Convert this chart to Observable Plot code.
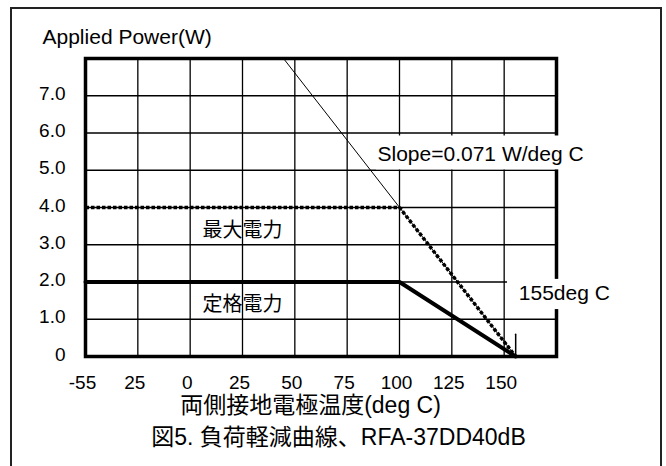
<!DOCTYPE html>
<html>
<head>
<meta charset="utf-8">
<script src="https://cdn.jsdelivr.net/npm/d3@7"></script>
<script src="https://cdn.jsdelivr.net/npm/@observablehq/plot@0.6"></script>
<style>
  html, body { margin: 0; padding: 0; background: #fff; }
  #wrap { position: relative; width: 666px; height: 466px; overflow: hidden; }
  #outer { position: absolute; left: 10px; top: 7px; width: 648px; height: 480px; border: 2px solid #222; pointer-events: none; }
  svg { display: block; }
</style>
</head>
<body>
<div id="wrap"><div id="outer"></div></div>
<script>
// ---- data ----
const xTicks = [-50, -25, 0, 25, 50, 75, 100, 125, 150];
const xTickLabels = ["-55", "25", "0", "25", "50", "75", "100", "125", "150"];
const yTicks = [0, 1, 2, 3, 4, 5, 6, 7];
const yTickLabels = ["0", "1.0", "2.0", "3.0", "4.0", "5.0", "6.0", "7.0"];
const xGrid = [-25, 0, 25, 50, 75, 100, 125, 150];
const yGrid = [1, 2, 3, 4, 5, 6, 7];

const ratedTemp = [-50, 100, 155.5];
const ratedPower = [2, 2, 0];
const maxTemp = [-50, 100, 155.5];
const maxPower = [4, 4, 0];
const slopeTemp = [44.6, 155.5];
const slopePower = [8, 0];
const cutoffTemp = [155.5, 155.5];
const cutoffPower = [0, 0.6];

const curveNames = ["最大電力", "定格電力"];
const curveNameX = [25, 25];
const curveNameY = [3.37, 1.4];

const slopeText = "Slope=0.071 W/deg C";
const cutoffText = "155deg C";
const yTitle = "Applied Power(W)";
const xTitle = "両側接地電極温度(deg C)";
const caption = "図5. 負荷軽減曲線、RFA-37DD40dB";

// annotation anchors (data space)
const slopeLabel = {x: 89.5, y: 5.42, x1: 89, x2: 195, y1: 5.01, y2: 5.92};
const cutoffLabel = {x: 157, y: 1.69, x1: 151.6, x2: 205, y1: 1.26, y2: 2.07};

const pts = (xs, ys) => xs.map((x, i) => ({x, y: ys[i]}));
const font = "'Liberation Sans', Arial, 'Noto Sans CJK JP', sans-serif";

const chart = Plot.plot({
  width: 666,
  height: 466,
  marginLeft: 85,
  marginRight: 110,
  marginTop: 58,
  marginBottom: 110,
  style: {fontFamily: font, fontSize: "19px", color: "#000", background: "transparent", overflow: "visible"},
  x: {domain: [-50, 175]},
  y: {domain: [0, 8]},
  marks: [
    Plot.ruleX(xGrid, {stroke: "#000", strokeWidth: 1.3}),
    Plot.ruleY(yGrid, {stroke: "#000", strokeWidth: 1.3}),
    Plot.frame({stroke: "#000", strokeWidth: 3.5}),
    Plot.axisY({ticks: yTicks, tickFormat: d => yTickLabels[yTicks.indexOf(d)], tickSize: 0, tickPadding: 20, dy: -2, label: null, fontSize: 19}),
    Plot.axisX({ticks: xTicks, tickFormat: d => xTickLabels[xTicks.indexOf(d)], tickSize: 0, tickPadding: 19, dx: -3, label: null, fontSize: 19}),
    // white label boxes
    Plot.rect([slopeLabel, cutoffLabel], {x1: "x1", x2: "x2", y1: "y1", y2: "y2", fill: "#fff"}),
    // slope reference line
    Plot.line(pts(slopeTemp, slopePower), {x: "x", y: "y", stroke: "#000", strokeWidth: 1}),
    // maximum power (dotted)
    Plot.line(pts(maxTemp, maxPower), {x: "x", y: "y", stroke: "#000", strokeWidth: 3.5, strokeDasharray: "3.5,2", strokeLinecap: "butt", strokeLinejoin: "miter"}),
    // rated power (thick)
    Plot.line(pts(ratedTemp, ratedPower), {x: "x", y: "y", stroke: "#000", strokeWidth: 4}),
    // cutoff marker
    Plot.line(pts(cutoffTemp, cutoffPower), {x: "x", y: "y", stroke: "#000", strokeWidth: 1.5}),
    // curve names
    Plot.text(curveNames, {x: (d, i) => curveNameX[i], y: (d, i) => curveNameY[i], text: d => d, fontSize: 20, fill: "#000"}),
    // annotations
    Plot.text([slopeLabel], {x: "x", y: "y", text: () => slopeText, textAnchor: "start", fontSize: 21, fill: "#000"}),
    Plot.text([cutoffLabel], {x: "x", y: "y", text: () => cutoffText, textAnchor: "start", fontSize: 21, fill: "#000"}),
    // titles
    Plot.text([yTitle], {frameAnchor: "top-left", dx: -43, dy: -21, text: d => d, textAnchor: "start", lineAnchor: "middle", fontSize: 21, fill: "#000"}),
    Plot.text([xTitle], {frameAnchor: "bottom-left", dx: 225, dy: 49, text: d => d, textAnchor: "middle", lineAnchor: "middle", fontSize: 23, fill: "#000"}),
    Plot.text([caption], {frameAnchor: "bottom-left", dx: 253, dy: 81, text: d => d, textAnchor: "middle", lineAnchor: "middle", fontSize: 23, fill: "#000"})
  ]
});
document.getElementById("wrap").prepend(chart);
</script>
</body>
</html>
